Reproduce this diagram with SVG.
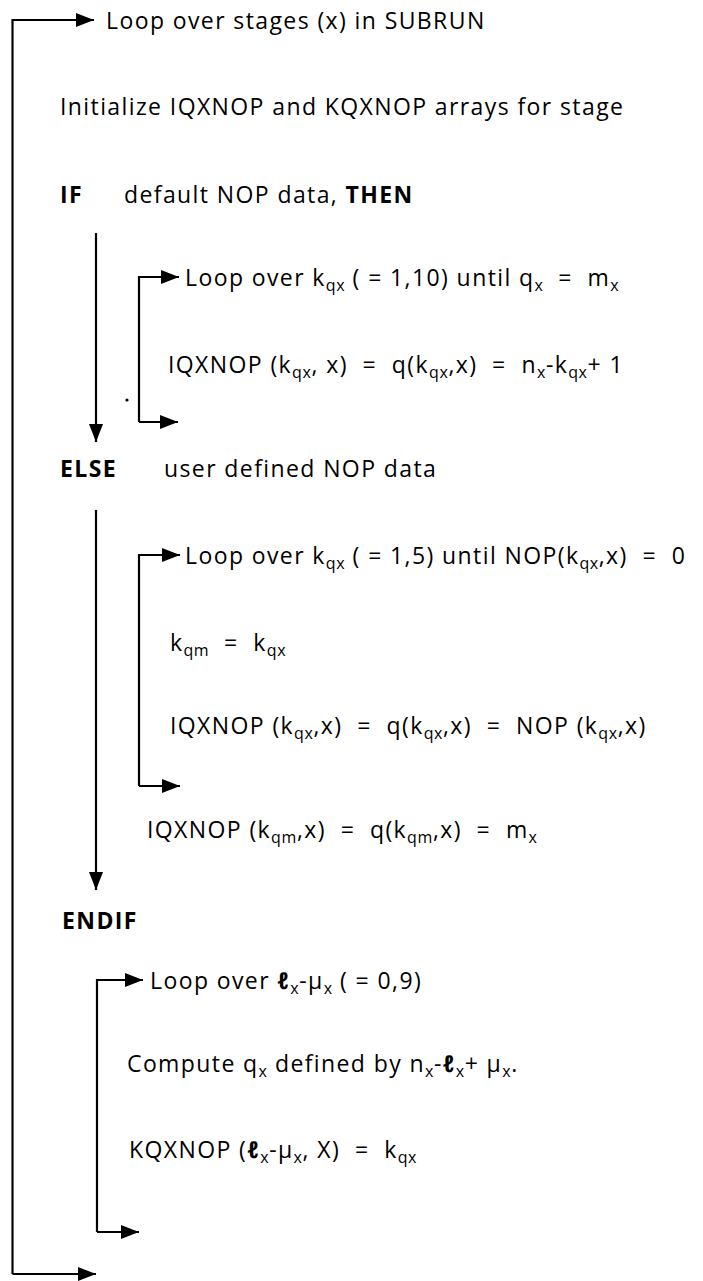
<svg xmlns="http://www.w3.org/2000/svg" width="703" height="1281" viewBox="0 0 703 1281">
  <defs>
    <style>
      text { font-family: "Open Sans", "Liberation Sans", sans-serif; font-size: 23px; letter-spacing: 1.4px; fill: #000; white-space: pre; }
      .b { font-weight: bold; }
      .s { font-size: 16px; letter-spacing: 0.6px; }
      .l { font-weight: bold; font-style: italic; }
      .conn path { stroke: #000; stroke-width: 2.2; fill: none; }
    </style>
    <marker id="ah" markerWidth="18" markerHeight="14" refX="18" refY="7" orient="auto" markerUnits="userSpaceOnUse">
      <path d="M0,0 L18,7 L0,14 Z" fill="#000"/>
    </marker>
  </defs>

  <rect width="703" height="1281" fill="#fff"/>

  <!-- loop and branch lines -->
  <g id="connectors" class="conn">
    <path d="M12.5,1274 V20 H94" marker-end="url(#ah)"/>
    <path d="M12.5,1274 H96" marker-end="url(#ah)"/>
    <path d="M96,233 V442" marker-end="url(#ah)"/>
    <path d="M139,422 V277 H179" marker-end="url(#ah)"/>
    <path d="M139,422 H178" marker-end="url(#ah)"/>
    <path d="M96,510 V890" marker-end="url(#ah)"/>
    <path d="M139,786 V555 H180" marker-end="url(#ah)"/>
    <path d="M139,786 H180" marker-end="url(#ah)"/>
    <path d="M97,1232 V980 H143" marker-end="url(#ah)"/>
    <path d="M97,1232 H139" marker-end="url(#ah)"/>
  </g>
  <circle cx="127" cy="400" r="1.6" fill="#000"/>

  <g id="loop-stages"><text x="106" y="29">Loop over stages (x) in SUBRUN</text></g>
  <g id="init"><text x="60" y="115">Initialize IQXNOP and KQXNOP arrays for stage</text></g>
  <g id="if"><text x="60" y="203"><tspan class="b">IF</tspan></text><text x="124" y="203">default NOP data, <tspan class="b">THEN</tspan></text></g>

  <g id="loop-default"><text x="185" y="286">Loop over k<tspan class="s" dy="5">qx</tspan><tspan dy="-5"> ( = 1,10) until q</tspan><tspan class="s" dy="5">x</tspan><tspan dy="-5">  =  m</tspan><tspan class="s" dy="5">x</tspan></text></g>
  <g id="iqx-default"><text x="168" y="373">IQXNOP (k<tspan class="s" dy="5">qx</tspan><tspan dy="-5">, x)  =  q(k</tspan><tspan class="s" dy="5">qx</tspan><tspan dy="-5">,x)  =  n</tspan><tspan class="s" dy="5">x</tspan><tspan dy="-5">-k</tspan><tspan class="s" dy="5">qx</tspan><tspan dy="-5">+ 1</tspan></text></g>

  <g id="else"><text x="60" y="477"><tspan class="b">ELSE</tspan></text><text x="164" y="477">user defined NOP data</text></g>

  <g id="loop-user"><text x="185" y="564">Loop over k<tspan class="s" dy="5">qx</tspan><tspan dy="-5"> ( = 1,5) until NOP(k</tspan><tspan class="s" dy="5">qx</tspan><tspan dy="-5">,x)  =  0</tspan></text></g>
  <g id="kqm"><text x="170" y="651">k<tspan class="s" dy="5">qm</tspan><tspan dy="-5">  =  k</tspan><tspan class="s" dy="5">qx</tspan></text></g>
  <g id="iqx-user"><text x="170" y="734">IQXNOP (k<tspan class="s" dy="5">qx</tspan><tspan dy="-5">,x)  =  q(k</tspan><tspan class="s" dy="5">qx</tspan><tspan dy="-5">,x)  =  NOP (k</tspan><tspan class="s" dy="5">qx</tspan><tspan dy="-5">,x)</tspan></text></g>
  <g id="iqx-last"><text x="147" y="838">IQXNOP (k<tspan class="s" dy="5">qm</tspan><tspan dy="-5">,x)  =  q(k</tspan><tspan class="s" dy="5">qm</tspan><tspan dy="-5">,x)  =  m</tspan><tspan class="s" dy="5">x</tspan></text></g>

  <g id="endif"><text x="62" y="929"><tspan class="b">ENDIF</tspan></text></g>

  <g id="loop-l"><text x="150" y="989">Loop over <tspan class="l">ℓ</tspan><tspan class="s" dy="5">x</tspan><tspan dy="-5">-μ</tspan><tspan class="s" dy="5">x</tspan><tspan dy="-5"> ( = 0,9)</tspan></text></g>
  <g id="compute"><text x="127" y="1072">Compute q<tspan class="s" dy="5">x</tspan><tspan dy="-5"> defined by n</tspan><tspan class="s" dy="5">x</tspan><tspan dy="-5">-</tspan><tspan class="l">ℓ</tspan><tspan class="s" dy="5">x</tspan><tspan dy="-5">+ μ</tspan><tspan class="s" dy="5">x</tspan><tspan dy="-5">.</tspan></text></g>
  <g id="kqx"><text x="129" y="1158">KQXNOP (<tspan class="l">ℓ</tspan><tspan class="s" dy="5">x</tspan><tspan dy="-5">-μ</tspan><tspan class="s" dy="5">x</tspan><tspan dy="-5">, X)  =  k</tspan><tspan class="s" dy="5">qx</tspan></text></g>
</svg>
